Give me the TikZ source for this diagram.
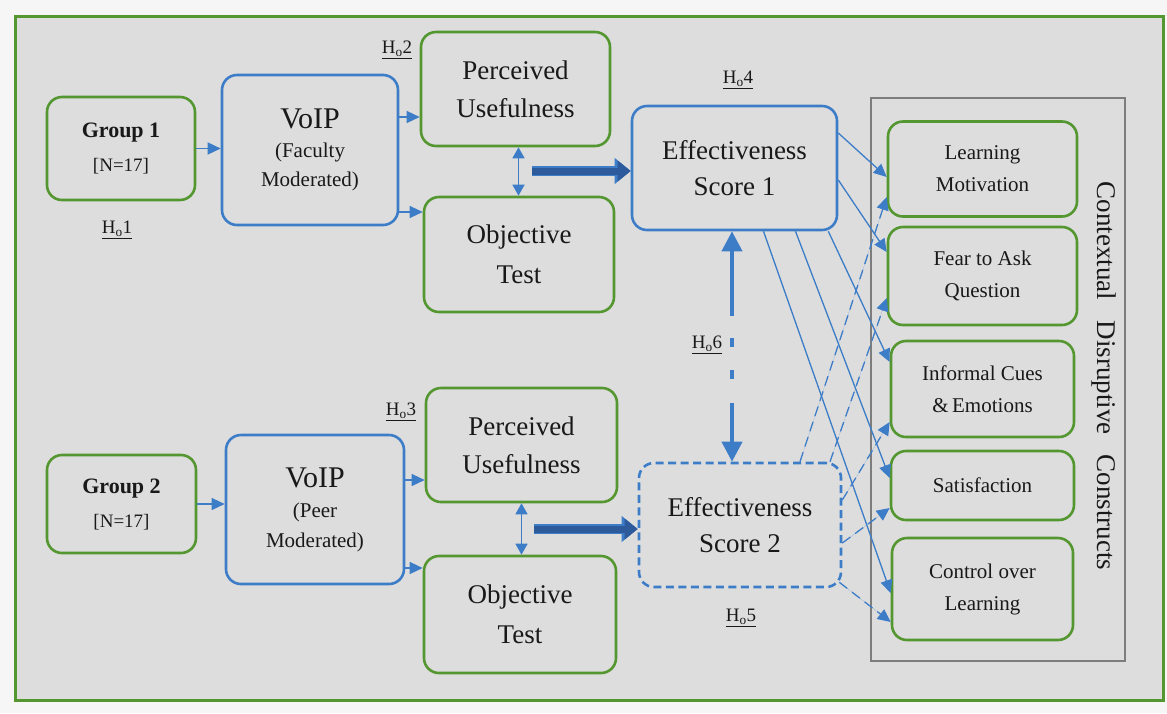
\documentclass[tikz,border=0pt]{standalone}
\usepackage{fontspec}
\setmainfont{Liberation Serif}
\usetikzlibrary{arrows.meta,calc}
\definecolor{gr}{RGB}{84,150,48}
\definecolor{bl}{RGB}{61,125,200}
\definecolor{dbl}{RGB}{44,90,155}
\definecolor{bg}{RGB}{221,221,221}
\definecolor{outerc}{RGB}{246,246,246}
\definecolor{txt}{RGB}{25,25,25}
\definecolor{frm}{RGB}{125,125,125}
\newcommand\fsz[2]{\fontsize{#1}{#2}\selectfont}
\begin{document}
\begin{tikzpicture}[x=1pt,y=-1pt,
  box/.style={line width=2.6pt, rounded corners=15pt, align=center, text=txt, inner sep=0pt},
  gbox/.style={box, draw=gr},
  bbox/.style={box, draw=bl},
  arr/.style={draw=bl, line width=1.3pt, -{Triangle[length=13pt,width=12pt]}, fill=bl},
  darr/.style={arr, dash pattern=on 10pt off 6pt},
  dbarr/.style={draw=bl, line width=1.5pt, {Triangle[length=11pt,width=12pt]}-{Triangle[length=11pt,width=12pt]}},
  thickout/.style={draw=bl, line width=10pt, -{Triangle[length=16pt,width=25pt]}},
  thickin/.style={draw=dbl, line width=7pt, -{Triangle[length=13pt,width=20pt]}},
  hlab/.style={font=\fsz{19}{22}, text=txt, inner sep=1pt},
]
\useasboundingbox (0,0) rectangle (1167,713);
\fill[outerc] (0,0) rectangle (1167,713);
\draw[gr, line width=3pt, fill=bg] (15,16) rectangle (1163,700);

% left column
\node[gbox, minimum width=148pt, minimum height=103pt, font=\fsz{22}{34}] (G1) at (121,148.5) {{\bfseries Group 1}\\{\fsz{19}{34}[N=17]}};
\node[bbox, minimum width=176pt, minimum height=150pt, font=\fsz{21}{29}] (V1) at (310,150) {{\fsz{30}{32}VoIP}\\(Faculty\\Moderated)};
\node[gbox, minimum width=189pt, minimum height=114pt, font=\fsz{27}{38}] (PU1) at (515.5,89) {Perceived\\Usefulness};
\node[gbox, minimum width=190pt, minimum height=115pt, font=\fsz{27}{40}] (OT1) at (519,254.5) {Objective\\Test};
\node[bbox, minimum width=205pt, minimum height=124pt, font=\fsz{27}{36}] (ES1) at (734.5,168) {Effectiveness\\Score 1};

\node[gbox, minimum width=149pt, minimum height=98pt, font=\fsz{22}{34}] (G2) at (121.5,504) {{\bfseries Group 2}\\{\fsz{19}{34}[N=17]}};
\node[bbox, minimum width=178pt, minimum height=149pt, font=\fsz{21}{30}] (V2) at (315,509.5) {{\fsz{30}{32}VoIP}\\(Peer\\Moderated)};
\node[gbox, minimum width=191pt, minimum height=114pt, font=\fsz{27}{38}] (PU2) at (521.5,445) {Perceived\\Usefulness};
\node[gbox, minimum width=192pt, minimum height=117pt, font=\fsz{27}{40}] (OT2) at (520,614.5) {Objective\\Test};
\node[box, draw=bl, dash pattern=on 8pt off 4.5pt, minimum width=202pt, minimum height=124pt, font=\fsz{27}{36}] (ES2) at (740,525) {Effectiveness\\Score 2};

% right group
\node[draw=frm, line width=2pt, minimum width=254pt, minimum height=563pt, inner sep=0pt] (CD) at (997.5,379.5) {};
\node[rotate=-90, font=\fsz{27}{30}, text=txt, inner sep=0pt] (CDL) at (1104,376) {Contextual\hspace{0.5em} Disruptive\hspace{0.5em} Constructs};
\node[gbox, minimum width=189pt, minimum height=95pt, font=\fsz{21}{32}] (LM) at (982.5,169) {Learning\\Motivation};
\node[gbox, minimum width=189pt, minimum height=98pt, font=\fsz{21}{32}] (FA) at (982.5,276) {Fear to Ask\\Question};
\node[gbox, minimum width=183pt, minimum height=96pt, font=\fsz{21}{32}] (IC) at (982.5,389) {Informal Cues\\\&\,Emotions};
\node[gbox, minimum width=183pt, minimum height=69pt, font=\fsz{21}{32}] (SA) at (982.5,485.5) {Satisfaction};
\node[gbox, minimum width=181pt, minimum height=102pt, font=\fsz{21}{32}] (CO) at (982.5,589) {Control over\\Learning};

% hypothesis labels
\node[hlab] (h1) at (117,230) {\underline{H\textsubscript{o}1}};
\node[hlab] (h2) at (397,50) {\underline{H\textsubscript{o}2}};
\node[hlab] (h3) at (401,412) {\underline{H\textsubscript{o}3}};
\node[hlab] (h4) at (738,80) {\underline{H\textsubscript{o}4}};
\node[hlab] (h5) at (741,618) {\underline{H\textsubscript{o}5}};
\node[hlab] (h6) at (707,345) {\underline{H\textsubscript{o}6}};

% group 1 flow
\draw[arr] (G1.east) -- (G1.east -| V1.west);
\draw[arr] ([yshift=33pt]V1.east) -- ([yshift=33pt]V1.east -| PU1.west);
\draw[arr] ([yshift=-62pt]V1.east) -- ([yshift=-62pt]V1.east -| OT1.west);
\draw[dbarr] ([xshift=3pt]PU1.south) -- ([xshift=3pt]PU1.south |- OT1.north);
\coordinate (t1) at (532,171);
\draw[thickout] (t1) -- ([yshift=-3pt]ES1.west);
\draw[thickin] (t1) -- ([yshift=-3pt]ES1.west);

% group 2 flow
\draw[arr] (G2.east) -- (G2.east -| V2.west);
\draw[arr] ([yshift=29.5pt]V2.east) -- ([yshift=29.5pt]V2.east -| PU2.west);
\draw[arr] ([yshift=-58.5pt]V2.east) -- ([yshift=-58.5pt]V2.east -| OT2.west);
\draw[dbarr] (PU2.south) -- (PU2.south |- OT2.north);
\coordinate (t2) at (534,529);
\draw[thickout] (t2) -- ([yshift=-4pt]ES2.west);
\draw[thickin] (t2) -- ([yshift=-4pt]ES2.west);

% H06 link
\draw[draw=bl, line width=4pt, {Triangle[length=20pt,width=20pt]}-{Triangle[length=20pt,width=20pt]}, dash pattern=on 66pt off 22pt on 9pt off 23pt on 9pt off 24pt on 200pt] ([xshift=-2.5pt]ES1.south) -- ([xshift=-8pt]ES2.north);

% solid links from ES1
\draw[arr] ([yshift=35pt]ES1.east) -- ([yshift=-8pt]LM.west);
\draw[arr] ([yshift=-12pt]ES1.east) -- ([yshift=24pt]FA.west);
\draw[arr] ([xshift=-10pt]ES1.south east) -- ([yshift=27pt]IC.west);
\draw[arr] ([xshift=61pt]ES1.south) -- ([yshift=7.5pt]SA.west);
\draw[arr] ([xshift=29pt]ES1.south) -- ([yshift=-4pt]CO.west);

% dashed links from ES2
\draw[darr] ([xshift=60pt]ES2.north) -- ([yshift=-28pt]LM.west);
\draw[darr] ([xshift=90pt]ES2.north) -- ([yshift=-22pt]FA.west);
\draw[darr] ([yshift=25pt]ES2.east) -- ([yshift=-33pt]IC.west);
\draw[darr] ([yshift=-18pt]ES2.east) -- ([yshift=-22.5pt]SA.west);
\draw[darr] ([xshift=-3pt,yshift=6pt]ES2.south east) -- ([yshift=-33pt]CO.west);
\end{tikzpicture}
\end{document}
